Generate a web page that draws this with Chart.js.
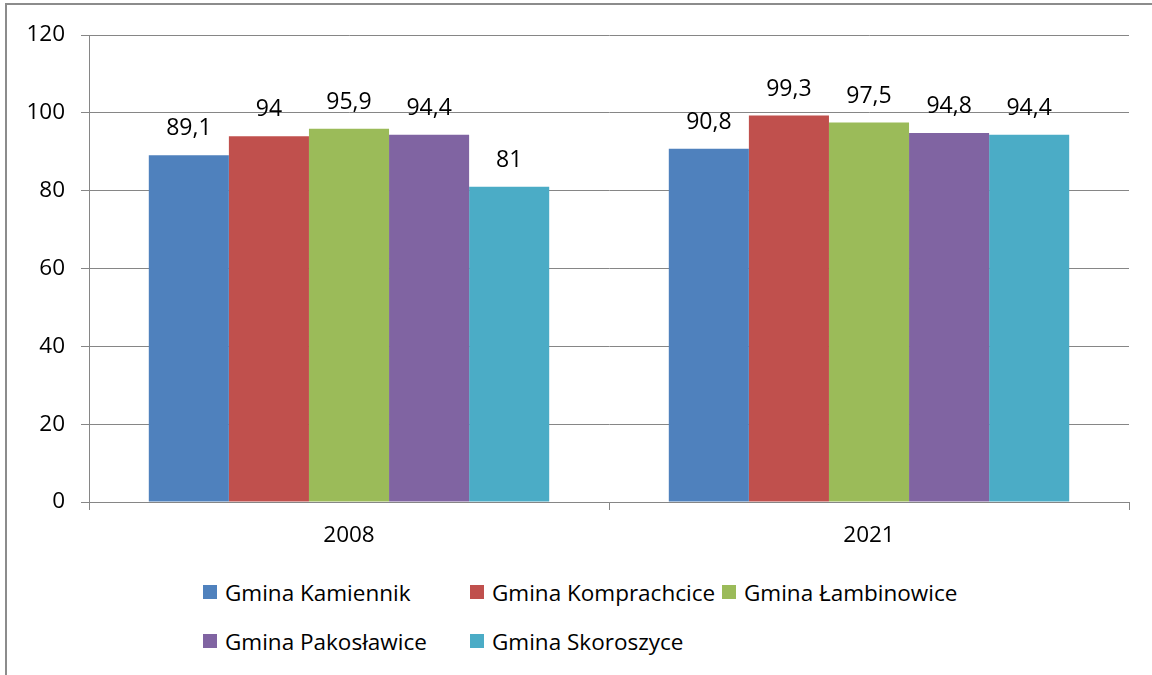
<!DOCTYPE html>
<html>
<head>
<meta charset="utf-8">
<script src="https://cdn.jsdelivr.net/npm/chart.js@4"></script>
<style>
  html, body { margin: 0; padding: 0; background: #fff; }
  #frame {
    position: absolute; left: 5px; top: 3px; width: 1147px; height: 672px;
    border-left: 2px solid #8c8c8c; border-top: 2px solid #8c8c8c; box-sizing: border-box;
  }
  #wrap { position: absolute; left: 0; top: 0; width: 1152px; height: 560px; }
  #legend {
    position: absolute; left: 203px; top: 577px;
    display: grid; grid-template-columns: 267px 252px auto; row-gap: 19px;
    font-family: "Open Sans", sans-serif; font-size: 22.5px; color: #000;
  }
  .item { display: flex; align-items: center; height: 30px; white-space: nowrap; }
  .box { width: 14px; height: 14px; margin-right: 8px; }
</style>
</head>
<body>
<div id="frame"></div>
<div id="wrap"><canvas id="chart"></canvas></div>
<div id="legend"></div>
<script>
const years = ["2008", "2021"];
const gminy = ["Gmina Kamiennik", "Gmina Komprachcice", "Gmina Łambinowice", "Gmina Pakosławice", "Gmina Skoroszyce"];
const kamiennik = [89.1, 90.8];
const komprachcice = [94, 99.3];
const lambinowice = [95.9, 97.5];
const pakoslawice = [94.4, 94.8];
const skoroszyce = [81, 94.4];
const colors = ["#4F81BD", "#C0504D", "#9BBB59", "#8064A2", "#4BACC6"];

const series = [kamiennik, komprachcice, lambinowice, pakoslawice, skoroszyce];
const FONT = "Open Sans";

const datasets = series.map((data, i) => ({
  label: gminy[i],
  data,
  backgroundColor: colors[i],
  borderWidth: 0,
  categoryPercentage: 0.77,
  barPercentage: 1.0,
}));

// value labels above bars, with decimal comma
const valueLabels = {
  id: "valueLabels",
  afterDatasetsDraw(chart) {
    const ctx = chart.ctx;
    ctx.save();
    ctx.font = `23px "${FONT}"`;
    ctx.fillStyle = "#000";
    ctx.textAlign = "center";
    ctx.textBaseline = "alphabetic";
    chart.data.datasets.forEach((ds, i) => {
      chart.getDatasetMeta(i).data.forEach((bar, j) => {
        const txt = String(ds.data[j]).replace(".", ",");
        ctx.fillText(txt, bar.x, bar.y - 20);
      });
    });
    ctx.restore();
  },
};

const canvas = document.getElementById("chart");
new Chart(canvas.getContext("2d"), {
  type: "bar",
  data: { labels: years, datasets },
  options: {
    responsive: true,
    maintainAspectRatio: false,
    animation: false,
    layout: { padding: { top: 35, right: 23, left: 0, bottom: 0 } },
    scales: {
      x: {
        offset: true,
        grid: { display: true, drawOnChartArea: false, color: "#868686", tickLength: 8, offset: true },
        border: { color: "#868686", width: 1 },
        ticks: { color: "#000", padding: 12, font: { family: FONT, size: 22.5 } },
        afterFit: (s) => { s.height = 58; },
      },
      y: {
        min: 0,
        max: 120,
        ticks: { stepSize: 20, color: "#000", padding: 16, font: { family: FONT, size: 22.5 } },
        grid: { color: "#868686", tickLength: 8 },
        border: { color: "#868686", width: 1 },
        afterFit: (s) => { s.width = 89; },
      },
    },
    plugins: {
      legend: { display: false },
      tooltip: { enabled: false },
    },
  },
  plugins: [valueLabels],
});

const legendEl = document.getElementById("legend");
gminy.forEach((name, i) => {
  const item = document.createElement("div");
  item.className = "item";
  item.innerHTML = `<span class="box" style="background:${colors[i]}"></span><span>${name}</span>`;
  legendEl.appendChild(item);
});
</script>
</body>
</html>
